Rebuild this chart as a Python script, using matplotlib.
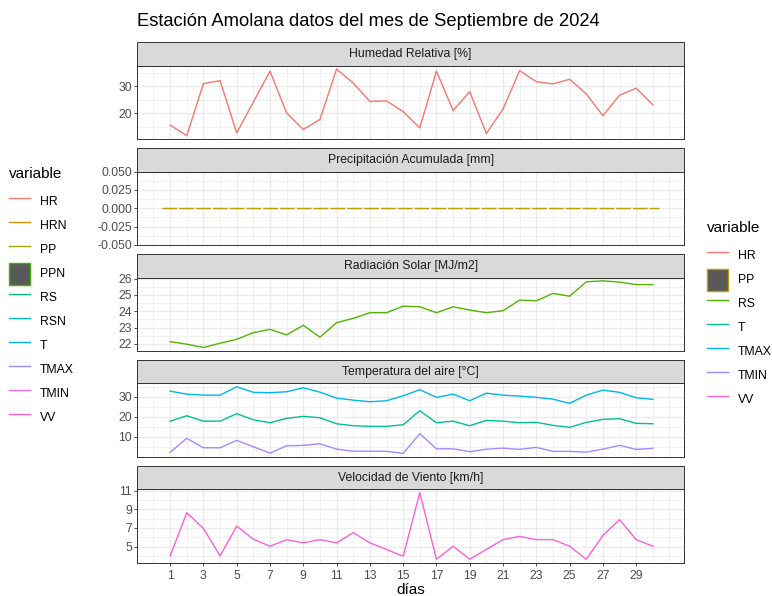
import numpy as np
import matplotlib
matplotlib.use("Agg")
import matplotlib.pyplot as plt
from matplotlib.lines import Line2D
from matplotlib.patches import Patch, Rectangle
from matplotlib.ticker import MultipleLocator, FixedLocator, FormatStrFormatter

plt.rcParams['font.family'] = ['Liberation Sans', 'DejaVu Sans']

# datos diarios de la estacion, septiembre 2024
dias = list(range(1, 31))
hr = [15.6, 11.7, 31.0, 32.1, 12.7, 24.2, 35.6, 20.1, 14.0, 17.7,
      36.4, 31.2, 24.4, 24.6, 20.6, 14.6, 35.6, 21.0, 28.0, 12.5,
      21.6, 35.8, 31.7, 30.9, 32.6, 27.2, 19.1, 26.7, 29.3, 23.2]
pp_dias = [0.52, 30.38]
pp = [0.0, 0.0]
rs = [22.14, 21.98, 21.78, 22.04, 22.28, 22.69, 22.89, 22.55, 23.14, 22.41,
      23.30, 23.56, 23.91, 23.91, 24.31, 24.27, 23.91, 24.27, 24.07, 23.91,
      24.03, 24.68, 24.64, 25.09, 24.92, 25.80, 25.86, 25.78, 25.63, 25.63]
t = [17.8, 20.5, 17.8, 17.8, 21.5, 18.5, 17.0, 19.2, 20.2, 19.5,
     16.5, 15.5, 15.2, 15.2, 16.0, 23.0, 17.0, 17.8, 15.5, 18.2,
     17.8, 17.0, 17.2, 15.7, 14.7, 17.2, 18.7, 19.0, 16.7, 16.5]
tmax = [32.8, 31.3, 30.8, 30.8, 35.0, 32.2, 32.0, 32.5, 34.5, 32.3,
        29.3, 28.3, 27.5, 28.0, 30.5, 33.5, 29.7, 31.3, 28.0, 31.8,
        30.8, 30.3, 29.7, 28.8, 26.7, 30.8, 33.3, 32.2, 29.5, 28.7]
tmin = [2.2, 9.2, 4.5, 4.5, 8.2, 5.0, 1.8, 5.5, 5.7, 6.5,
        3.8, 2.8, 2.8, 2.7, 1.7, 11.5, 4.0, 4.0, 2.5, 3.8,
        4.3, 3.7, 4.7, 2.7, 2.7, 2.3, 3.8, 5.7, 3.7, 4.2]
vv = [4.0, 8.64, 6.96, 4.0, 7.2, 5.8, 5.04, 5.75, 5.4, 5.75,
      5.4, 6.5, 5.4, 4.7, 3.96, 10.8, 3.64, 5.04, 3.64, 4.7,
      5.75, 6.1, 5.75, 5.75, 5.04, 3.64, 6.2, 7.9, 5.75, 5.04]
dias_ticks = list(range(1, 30, 2))

titulos = ["Humedad Relativa [%]", "Precipitación Acumulada [mm]",
           "Radiación Solar [MJ/m2]", "Temperatura del aire [°C]",
           "Velocidad de Viento [km/h]"]

# paletas tipo ggplot (hue) de 7 y 10 niveles
vars_plot = ["HR", "PP", "RS", "T", "TMAX", "TMIN", "VV"]
col_plot = ["#F8766D", "#C49A00", "#53B400", "#00C094", "#00B6EB", "#A58AFF", "#FB61D7"]
vars_todas = ["HR", "HRN", "PP", "PPN", "RS", "RSN", "T", "TMAX", "TMIN", "VV"]
col_todas = ["#F8766D", "#D89000", "#A3A500", "#39B600", "#00BF7D",
             "#00BFC4", "#00B0F6", "#9590FF", "#E76BF3", "#FF62BC"]
col = dict(zip(vars_plot, col_plot))

W, H = 772, 596
fig = plt.figure(figsize=(W / 100, H / 100), dpi=100)

# geometria de paneles en pixeles
x0, x1 = 137.3, 684.0
top0, paso, alto, strip = 65.7, 105.9, 73.3, 23.3

GRIS = "#333333"
FS = 8.8
axes = []
for i in range(5):
    top = top0 + i * paso
    ax = fig.add_axes([x0 / W, 1 - (top + alto) / H, (x1 - x0) / W, alto / H])
    ax.set_facecolor("white")
    for s in ax.spines.values():
        s.set_color(GRIS)
        s.set_linewidth(0.7)
    ax.add_patch(Rectangle((0, 1), 1, strip / alto, transform=ax.transAxes,
                           clip_on=False, fc="#D9D9D9", ec=GRIS, lw=0.7))
    ax.text(0.5, 1 + strip / 2 / alto, titulos[i], transform=ax.transAxes,
            ha="center", va="center", fontsize=FS, color="#1A1A1A")
    ax.xaxis.set_major_locator(FixedLocator(dias_ticks))
    ax.xaxis.set_minor_locator(MultipleLocator(1))
    ax.grid(which="major", color="#EBEBEB", lw=1.0)
    ax.grid(which="minor", color="#EBEBEB", lw=0.5)
    ax.set_axisbelow(True)
    ax.tick_params(which="major", length=2.3, width=0.6, color=GRIS,
                   labelsize=FS, labelcolor="#4D4D4D", pad=1.5)
    ax.tick_params(which="minor", length=0)
    if i < 4:
        ax.tick_params(axis="x", which="both", length=0, labelbottom=False)
    axes.append(ax)

lw = 1.0
axes[0].plot(dias, hr, color=col["HR"], lw=lw)
axes[0].yaxis.set_major_locator(MultipleLocator(10))
axes[0].yaxis.set_minor_locator(MultipleLocator(5))

axes[1].plot(pp_dias, pp, color=col["PP"], lw=lw, dashes=(10.5, 1.6))
axes[1].set_ylim(-0.05, 0.05)
axes[1].yaxis.set_major_locator(MultipleLocator(0.025))
axes[1].yaxis.set_minor_locator(MultipleLocator(0.0125))
axes[1].yaxis.set_major_formatter(FormatStrFormatter("%.3f"))

axes[2].plot(dias, rs, color=col["RS"], lw=lw)
axes[2].yaxis.set_major_locator(MultipleLocator(1))
axes[2].yaxis.set_minor_locator(MultipleLocator(0.5))

axes[3].plot(dias, t, color=col["T"], lw=lw)
axes[3].plot(dias, tmax, color=col["TMAX"], lw=lw)
axes[3].plot(dias, tmin, color=col["TMIN"], lw=lw)
axes[3].yaxis.set_major_locator(MultipleLocator(10))
axes[3].yaxis.set_minor_locator(MultipleLocator(5))

axes[4].plot(dias, vv, color=col["VV"], lw=lw)
axes[4].yaxis.set_major_locator(MultipleLocator(2, offset=1))
axes[4].yaxis.set_minor_locator(MultipleLocator(1))
axes[4].tick_params(axis="x", pad=3.2)
axes[4].set_xlabel("días", fontsize=11, labelpad=0.5)

# eje x comun con 5% de expansion sobre el rango de registros
rango = pp_dias[1] - pp_dias[0]
for ax in axes:
    ax.set_xlim(pp_dias[0] - 0.05 * rango, pp_dias[1] + 0.05 * rango)

fig.text(x0 / W, 1 - 22 / H, "Estación Amolana datos del mes de Septiembre de 2024",
         fontsize=13.2, ha="left", va="center")


def manejadores(nombres, colores, caja):
    hs = []
    for n, c in zip(nombres, colores):
        if n == caja:
            hs.append(Patch(fc="#595959", ec=c, lw=1.0))
        else:
            hs.append(Line2D([], [], color=c, lw=1.0))
    return hs


opts = dict(loc="upper left", frameon=False, fontsize=FS, title="variable",
            title_fontsize=11, alignment="left", handlelength=1.75,
            handleheight=2.39, labelspacing=0.16, handletextpad=0.8,
            borderpad=0, borderaxespad=0)
leg1 = fig.legend(manejadores(vars_todas, col_todas, "PPN"), vars_todas,
                  bbox_to_anchor=(9 / W, 1 - 167 / H), **opts)
leg2 = fig.legend(manejadores(vars_plot, col_plot, "PP"), vars_plot,
                  bbox_to_anchor=(707 / W, 1 - 221 / H), **opts)
for leg in (leg1, leg2):
    leg._legend_box.sep = 7

fig.savefig("out.png", dpi=100)
